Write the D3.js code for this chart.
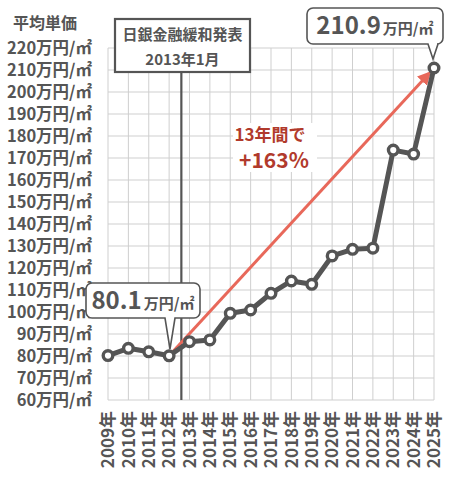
<!DOCTYPE html>
<html>
<head>
<meta charset="utf-8">
<script src="https://cdn.jsdelivr.net/npm/d3@7"></script>
<style>
  body { margin: 0; background: #fff; }
  text { font-family: "Noto Sans CJK JP", "Noto Sans", sans-serif; }
</style>
</head>
<body>
<script>
var width = 450,
    height = 477;

// data
var years = [2009, 2010, 2011, 2012, 2013, 2014, 2015, 2016, 2017,
             2018, 2019, 2020, 2021, 2022, 2023, 2024, 2025];
var prices = [80.2, 83.5, 81.9, 80.1, 86.5, 87.3, 99.4, 100.9, 108.5,
              114.1, 112.6, 125.5, 128.5, 129.0, 173.6, 171.8, 210.9];
var yTicks = [60, 70, 80, 90, 100, 110, 120, 130, 140, 150, 160, 170, 180, 190, 200, 210, 220];
var yUnit = "万円/㎡";
var xUnit = "年";
var bojEvent = ["日銀金融緩和発表", "2013年1月"];
var bojX = 2012.6;
var growthText = ["13年間で", "+163%"];

var grey = "#555",
    red = "#e8685a",
    darkRed = "#b13a2c";

var x = d3.scaleLinear().domain([2009, 2025]).range([108, 434]);
var y = d3.scaleLinear().domain([60, 220]).range([400, 48]);

var svg = d3.select("body").append("svg")
    .attr("width", width)
    .attr("height", height);

var defs = svg.append("defs");
defs.append("marker")
    .attr("id", "arrow")
    .attr("viewBox", "0 0 10 10")
    .attr("refX", 8).attr("refY", 5)
    .attr("markerWidth", 4.5).attr("markerHeight", 4.5)
    .attr("orient", "auto")
  .append("path")
    .attr("d", "M0,0L10,5L0,10z")
    .attr("fill", red);

// grid
svg.append("g").selectAll("line.h")
    .data(yTicks).enter().append("line")
    .attr("x1", x(2009)).attr("x2", x(2025))
    .attr("y1", d => y(d)).attr("y2", d => y(d))
    .attr("stroke", "#cfcfcf").attr("stroke-width", 1);
svg.append("g").selectAll("line.v")
    .data(years).enter().append("line")
    .attr("x1", d => x(d)).attr("x2", d => x(d))
    .attr("y1", y(220)).attr("y2", y(60))
    .attr("stroke", "#cfcfcf").attr("stroke-width", 1);

// y labels
svg.append("g").selectAll("text")
    .data(yTicks).enter().append("text")
    .attr("x", 92).attr("y", d => y(d))
    .attr("dy", "0.36em")
    .attr("text-anchor", "end")
    .attr("font-size", 16.5).attr("font-weight", "bold")
    .attr("fill", grey)
    .text(d => d + yUnit);

svg.append("text")
    .attr("x", 13).attr("y", 29)
    .attr("font-size", 16).attr("font-weight", "bold")
    .attr("fill", grey)
    .text("平均単価");

// x labels
svg.append("g").selectAll("text")
    .data(years).enter().append("text")
    .attr("transform", d => "translate(" + x(d) + ",411) rotate(-90)")
    .attr("dy", "0.36em")
    .attr("text-anchor", "end")
    .attr("font-size", 17).attr("font-weight", "bold")
    .attr("fill", grey)
    .text(d => d + xUnit);

// event line
svg.append("line")
    .attr("x1", x(bojX)).attr("x2", x(bojX))
    .attr("y1", 70).attr("y2", y(60))
    .attr("stroke", grey).attr("stroke-width", 2.2);

// growth arrow
var p0 = [x(2012), y(prices[3])],
    p1 = [x(2025), y(prices[16])];
var ang = Math.atan2(p1[1] - p0[1], p1[0] - p0[0]);
svg.append("line")
    .attr("x1", p0[0]).attr("y1", p0[1])
    .attr("x2", p1[0] - 7 * Math.cos(ang)).attr("y2", p1[1] - 7 * Math.sin(ang))
    .attr("stroke", red).attr("stroke-width", 3)
    .attr("marker-end", "url(#arrow)");

// data line
var line = d3.line().x((d, i) => x(years[i])).y(d => y(d));
svg.append("path")
    .datum(prices)
    .attr("d", line)
    .attr("fill", "none")
    .attr("stroke", grey).attr("stroke-width", 5)
    .attr("stroke-linejoin", "round");

svg.append("g").selectAll("circle")
    .data(prices).enter().append("circle")
    .attr("cx", (d, i) => x(years[i])).attr("cy", d => y(d))
    .attr("r", 4.8)
    .attr("fill", "#fff")
    .attr("stroke", grey).attr("stroke-width", 3.4);

// callout with tail
function callout(bx, by, bw, bh, tx, tipX, tipY, big, small) {
  var r = 6, hw = 5;
  var p = d3.path();
  p.moveTo(bx + r, by);
  p.lineTo(bx + bw - r, by);
  p.arcTo(bx + bw, by, bx + bw, by + r, r);
  p.lineTo(bx + bw, by + bh - r);
  p.arcTo(bx + bw, by + bh, bx + bw - r, by + bh, r);
  p.lineTo(tx + hw, by + bh);
  p.lineTo(tipX, tipY);
  p.lineTo(tx - hw, by + bh);
  p.lineTo(bx + r, by + bh);
  p.arcTo(bx, by + bh, bx, by + bh - r, r);
  p.lineTo(bx, by + r);
  p.arcTo(bx, by, bx + r, by, r);
  p.closePath();
  svg.append("path")
      .attr("d", p.toString())
      .attr("fill", "#fff")
      .attr("stroke", grey).attr("stroke-width", 1.6);
  var t = svg.append("text")
      .attr("x", bx + bw / 2).attr("y", by + bh / 2 + 8)
      .attr("text-anchor", "middle")
      .attr("fill", grey).attr("font-weight", "bold");
  t.append("tspan").attr("font-size", 24).text(big);
  t.append("tspan").attr("font-size", 15).attr("dx", 2).text(small);
}

callout(86, 283, 114, 35, 170, 170, 349, "80.1", yUnit);
callout(307, 8, 136, 36, 433, 433, 59, "210.9", yUnit);

// growth label
svg.append("rect")
    .attr("x", 233).attr("y", 123).attr("width", 84).attr("height", 49)
    .attr("fill", "#fff");
svg.append("text")
    .attr("x", 270).attr("y", 141)
    .attr("text-anchor", "middle")
    .attr("font-size", 17).attr("font-weight", "bold")
    .attr("fill", darkRed)
    .text(growthText[0]);
svg.append("text")
    .attr("x", 274).attr("y", 168)
    .attr("text-anchor", "middle")
    .attr("font-size", 21).attr("font-weight", "bold")
    .attr("fill", darkRed)
    .text(growthText[1]);

// event box
svg.append("rect")
    .attr("x", 115).attr("y", 19).attr("width", 135).attr("height", 53)
    .attr("fill", "#fff")
    .attr("stroke", grey).attr("stroke-width", 2.2);
svg.selectAll("text.ev")
    .data(bojEvent).enter().append("text")
    .attr("x", 182.5).attr("y", (d, i) => 40 + i * 25)
    .attr("text-anchor", "middle")
    .attr("font-size", 15).attr("font-weight", "bold")
    .attr("fill", grey)
    .text(d => d);
</script>
</body>
</html>
